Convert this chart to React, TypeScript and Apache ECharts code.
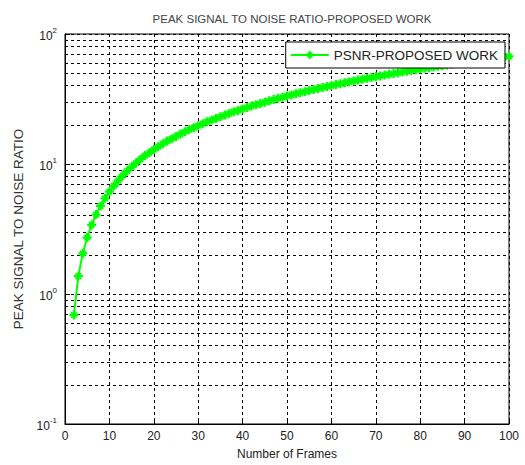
import React, { useEffect, useRef } from "react";
import * as echarts from "echarts";

const frames: number[] = [];
for (let f = 2; f <= 100; f++) frames.push(f);

const psnrValues = [
  0.69, 1.37, 2.05, 2.72, 3.4, 4.08, 4.76, 5.44, 6.12, 6.8,
  7.48, 8.16, 8.84, 9.52, 10.2, 10.9, 11.6, 12.2, 12.9, 13.6,
  14.3, 15.0, 15.6, 16.3, 17.0, 17.7, 18.4, 19.0, 19.7, 20.4,
  21.1, 21.8, 22.4, 23.1, 23.8, 24.5, 25.2, 25.8, 26.5, 27.2,
  27.9, 28.6, 29.2, 29.9, 30.6, 31.3, 32.0, 32.6, 33.3, 34.0,
  34.7, 35.4, 36.0, 36.7, 37.4, 38.1, 38.8, 39.4, 40.1, 40.8,
  41.5, 42.2, 42.8, 43.5, 44.2, 44.9, 45.6, 46.2, 46.9, 47.6,
  48.3, 49.0, 49.6, 50.3, 51.0, 51.7, 52.4, 53.0, 53.7, 54.4,
  55.1, 55.8, 56.4, 57.1, 57.8, 58.5, 59.2, 59.8, 60.5, 61.2,
  61.9, 62.6, 63.2, 63.9, 64.6, 65.3, 66.0, 66.6, 67.3,
];

const minorGridValues = [
  0.2, 0.3, 0.4, 0.5, 0.6, 0.7, 0.8, 0.9,
  2, 3, 4, 5, 6, 7, 8, 9,
  20, 30, 40, 50, 60, 70, 80, 90,
];

const titleText = "PEAK SIGNAL TO NOISE RATIO-PROPOSED WORK";
const seriesName = "PSNR-PROPOSED WORK";
const xAxisName = "Number of Frames";
const yAxisName = "PEAK SIGNAL TO NOISE RATIO";

const starPath =
  "path://M3,0 L5,0 L5,2 L6,1 L7,2 L6,3 L8,3 L8,5 L6,5 L7,6 L6,7 L5,6 L5,8 L3,8 L3,6 L2,7 L1,6 L2,5 L0,5 L0,3 L2,3 L1,2 L2,1 L3,2 Z";

export default function App() {
  const ref = useRef<HTMLDivElement>(null);
  useEffect(() => {
    document.body.style.margin = "0";
    if (!ref.current) return;
    const chart = echarts.init(ref.current, null, { renderer: "svg" });
    const font = "Liberation Sans, Arial, sans-serif";
    chart.setOption({
      animation: false,
      backgroundColor: "#ffffff",
      textStyle: { fontFamily: font },
      title: {
        text: titleText,
        left: 287,
        textAlign: "center",
        top: 8,
        textStyle: {
          fontSize: 11.5,
          fontWeight: "normal",
          color: "#444",
          fontFamily: font,
        },
      },
      legend: {
        right: 20,
        top: 42,
        z: 10,
        backgroundColor: "#fff",
        borderColor: "#000",
        borderWidth: 1,
        borderRadius: 0,
        padding: [6, 7, 6, 4],
        itemWidth: 38,
        itemHeight: 10,
        itemGap: 2,
        textStyle: { fontSize: 13.5, color: "#222", fontFamily: font },
        data: [seriesName],
      },
      grid: {
        left: 65,
        right: 16,
        top: 34,
        bottom: 41,
        show: true,
        borderColor: "#000",
        borderWidth: 1,
      },
      xAxis: {
        type: "value",
        min: 0,
        max: 100,
        interval: 10,
        name: xAxisName,
        nameLocation: "middle",
        nameGap: 24,
        nameTextStyle: { fontSize: 12, color: "#222", fontFamily: font },
        axisLine: { show: true, lineStyle: { color: "#000", width: 1 } },
        axisTick: { show: true, inside: true, length: 5, lineStyle: { color: "#000" } },
        axisLabel: { fontSize: 12, color: "#222", margin: 6, fontFamily: font },
        splitLine: {
          show: true,
          lineStyle: { color: "#000", type: [3, 3], width: 1 },
        },
      },
      yAxis: {
        type: "log",
        logBase: 10,
        min: 0.1,
        max: 100,
        name: yAxisName,
        nameLocation: "middle",
        nameGap: 39,
        nameTextStyle: { fontSize: 13.5, color: "#333", fontFamily: font },
        axisLine: { show: true, lineStyle: { color: "#000", width: 1 } },
        axisTick: { show: true, inside: true, length: 5, lineStyle: { color: "#000" } },
        axisLabel: {
          margin: 8,
          color: "#222",
          formatter: (v: number) => {
            const e = Math.round(Math.log10(v));
            return "{b|10}{s|" + e + "}";
          },
          rich: {
            b: { fontSize: 12, color: "#222", fontFamily: font, verticalAlign: "bottom" },
            s: { fontSize: 8, color: "#222", fontFamily: font, verticalAlign: "top", padding: [0, 0, 8, 0] },
          },
        },
        splitLine: {
          show: true,
          lineStyle: { color: "#000", type: [3, 3], width: 1 },
        },
      },
      series: [
        {
          name: seriesName,
          type: "line",
          data: frames.map((f, i) => [f, psnrValues[i]]),
          color: "#00ff00",
          lineStyle: { color: "#00ff00", width: 2 },
          itemStyle: { color: "#00ff00" },
          symbol: starPath,
          symbolSize: 9,
          showAllSymbol: true,
          clip: false,
          z: 2,
          markLine: {
            silent: true,
            symbol: "none",
            label: { show: false },
            lineStyle: { color: "#000", type: [3, 3], width: 1 },
            emphasis: { disabled: true },
            z: 1,
            data: minorGridValues.map((v) => ({ yAxis: v })),
          },
        },
      ],
    });
    return () => chart.dispose();
  }, []);
  return <div ref={ref} style={{ width: 525, height: 465 }} />;
}
